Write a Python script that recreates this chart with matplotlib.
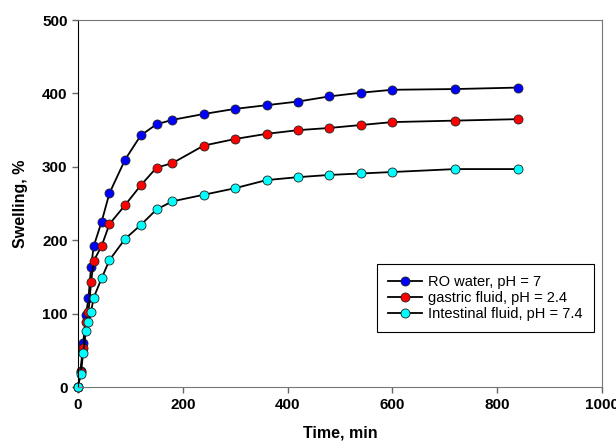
import matplotlib
matplotlib.use("Agg")
import matplotlib.pyplot as plt

plt.rcParams['font.family'] = ['Liberation Sans', 'DejaVu Sans']

# time points (min)
time = [0, 5, 10, 15, 20, 25, 30, 45, 60, 90, 120, 150, 180, 240, 300,
        360, 420, 480, 540, 600, 720, 840]

# swelling (%)
ro_water = [0, 22, 60, 98, 121, 164, 192, 225, 264, 310, 343, 358, 364, 372,
            379, 384, 389, 396, 401, 405, 406, 408]
gastric = [0, 20, 53, 89, 102, 143, 172, 192, 222, 248, 275, 299, 305, 329,
           338, 345, 350, 353, 357, 361, 363, 365]
intestinal = [0, 18, 46, 77, 89, 103, 122, 148, 173, 202, 221, 242, 253, 262,
              271, 282, 286, 289, 291, 293, 297, 297]

labels = ['RO water, pH = 7', 'gastric fluid, pH = 2.4',
          'Intestinal fluid, pH = 7.4']
colors = ['#0000FF', '#FF0000', '#00FFFF']

fig = plt.figure(figsize=(6.16, 4.45), dpi=100)
ax = fig.add_axes([0.1266, 0.130, 0.8504, 0.825])

for y, lab, col in zip([ro_water, gastric, intestinal], labels, colors):
    ax.plot(time, y, '-o', color='black', lw=1.3, markerfacecolor=col,
            markeredgecolor='#222222', markeredgewidth=0.6, markersize=6.5,
            label=lab, clip_on=False)

ax.set_xlim(0, 1000)
ax.set_ylim(0, 500)
ax.set_xticks([0, 200, 400, 600, 800, 1000])
ax.set_yticks([0, 100, 200, 300, 400, 500])

for lab in ax.get_xticklabels() + ax.get_yticklabels():
    lab.set_fontweight('bold')
ax.tick_params(direction='out', length=4, width=1, colors='#666666',
               labelcolor='black', labelsize=11)

# frame: dark left spine, grey others
for s in ['top', 'right', 'bottom']:
    ax.spines[s].set_color('#777777')
ax.spines['left'].set_color('black')

ax.set_xlabel('Time, min', fontsize=11.5, fontweight='bold', labelpad=10)
ax.set_ylabel('Swelling, %', fontsize=11.5, fontweight='bold', labelpad=10)

leg = ax.legend(loc='lower left', bbox_to_anchor=(0.571, 0.15),
                borderaxespad=0, fancybox=False, framealpha=1,
                edgecolor='black', fontsize=10.5, handlelength=2.3,
                handletextpad=0.45, labelspacing=0.13, borderpad=0.75)
leg.get_frame().set_linewidth(0.8)

fig.savefig('out.png', dpi=100)
